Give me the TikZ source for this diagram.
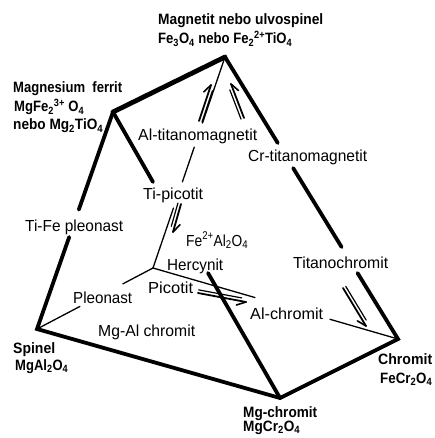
\documentclass[tikz,border=0pt]{standalone}
\usepackage{fontspec}
\usepackage{graphicx}
\setmainfont{Liberation Sans}
\usetikzlibrary{calc}
\newcommand\fw[2]{\resizebox{#1pt}{\height}{#2}}
\newcommand\myharp[4]{%
  \coordinate (hA) at #1; \coordinate (hB) at #2;
  \coordinate (hC) at ($(hB)!5pt!(hA)$);
  \draw[line width=1.8pt, line cap=round] (hA) -- (hB);
  \draw[line width=1.2pt, line cap=round] ($(hA)!3.2pt!#3:(hB)$) -- ($(hC)!3.2pt!-#3:(hA)$);
  \draw[line width=1.6pt, line cap=round] (hB) -- ($(hB)!10pt!#4:(hA)$);
}
\begin{document}
\begin{tikzpicture}[x=1pt,y=-1pt,
  bl/.style={font=\fontsize{15}{16}\selectfont\bfseries, inner sep=0pt, anchor=base west},
  rl/.style={font=\fontsize{16}{18}\selectfont, inner sep=0pt, anchor=base west},
  thickl/.style={line width=3.8pt, line join=miter, line cap=round},
  thinl/.style={line width=1.3pt, line cap=round}]
\useasboundingbox (0,0) rectangle (434,438);
% vertices
\coordinate (vMag) at (225,57);
\coordinate (vMgF) at (113,112);
\coordinate (vSpi) at (37,329);
\coordinate (vMgC) at (280,398);
\coordinate (vChr) at (398,339);
\coordinate (vHer) at (153,268);
\coordinate (tpEnd) at (153,182);
\coordinate (hcStart) at (208,273);
% thick lines
\draw[thickl, line width=4.8pt] (vMgF) -- (vMag);
\draw[thickl] (vMag) -- ($(vMag)!0.305!(vChr)$);
\draw[thickl] ($(vMag)!0.394!(vChr)$) -- ($(vMag)!0.674!(vChr)$);
\draw[thickl] ($(vMag)!0.766!(vChr)$) -- (vChr) -- (vMgC) -- (vSpi) -- ($(vMgF)!0.576!(vSpi)$);
\draw[thickl] (vMgF) -- ($(vMgF)!0.45!(vSpi)$);
\draw[thickl] (vMgF) -- (tpEnd);
\draw[thickl] (hcStart) -- (vMgC);
% thin lines
\draw[thinl] (vMag) -- ($(vMag)!0.313!(vHer)$);
\draw[thinl] ($(vMag)!0.427!(vHer)$) -- ($(vMag)!0.592!(vHer)$);
\draw[thinl] ($(vMag)!0.716!(vHer)$) -- (vHer);
\draw[thinl] (vHer) -- ($(vHer)!0.416!(vChr)$);
\draw[thinl] ($(vHer)!0.722!(vChr)$) -- (vChr);
\draw[thinl] (vHer) -- ($(vHer)!0.26!(vSpi)$);
\draw[thinl] ($(vHer)!0.63!(vSpi)$) -- (vSpi);
% arrows
\myharp{(199,121)}{(211,85)}{-90}{-28}
\myharp{(244,118)}{(231,84)}{90}{28}
\myharp{(181,204)}{(173,232)}{-90}{-28}
\myharp{(198,293)}{(246,302)}{90}{28}
\myharp{(343,288)}{(366,326)}{90}{28}
% labels
\node[bl] (tMag1) at (158,25) {\fw{165}{Magnetit nebo ulvospinel}};
\node[bl] (tMag2) at (158,44) {\fw{134}{Fe\textsubscript{3}O\textsubscript{4} nebo Fe\textsubscript{2}\textsuperscript{2+}TiO\textsubscript{4}}};
\node[bl] (tMgF1) at (13,93) {\fw{109}{Magnesium\ \ ferrit}};
\node[bl] (tMgF2) at (14,112) {\fw{70}{MgFe\textsubscript{2}\textsuperscript{3+} O\textsubscript{4}}};
\node[bl] (tMgF3) at (13,130) {\fw{90}{nebo Mg\textsubscript{2}TiO\textsubscript{4}}};
\node[rl] (tAlT) at (138,141) {\fw{119}{Al-titanomagnetit}};
\node[rl] (tCrT) at (248,162) {\fw{119}{Cr-titanomagnetit}};
\node[rl] (tTiP) at (143,199) {\fw{60}{Ti-picotit}};
\node[rl] (tTiF) at (25,231) {\fw{98}{Ti-Fe pleonast}};
\node[rl] (tFeA) at (186,246) {\fw{62}{Fe\textsuperscript{2+}Al\textsubscript{2}O\textsubscript{4}}};
\node[rl] (tHer) at (167,270) {\fw{56}{Hercynit}};
\node[rl] (tTiC) at (293,268) {\fw{95}{Titanochromit}};
\node[rl] (tPle) at (73,303) {\fw{59}{Pleonast}};
\node[rl] (tPic) at (148,293) {\fw{45}{Picotit}};
\node[rl] (tAlC) at (250,319) {\fw{73}{Al-chromit}};
\node[rl] (tMAC) at (98,336) {\fw{97}{Mg-Al chromit}};
\node[bl] (tSpi1) at (13,353) {\fw{42}{Spinel}};
\node[bl] (tSpi2) at (15,370) {\fw{53}{MgAl\textsubscript{2}O\textsubscript{4}}};
\node[bl] (tChr1) at (378,364) {\fw{54}{Chromit}};
\node[bl] (tChr2) at (380,383) {\fw{52}{FeCr\textsubscript{2}O\textsubscript{4}}};
\node[bl] (tMgC1) at (243,417) {\fw{74}{Mg-chromit}};
\node[bl] (tMgC2) at (243,431) {\fw{57}{MgCr\textsubscript{2}O\textsubscript{4}}};
\end{tikzpicture}
\end{document}
